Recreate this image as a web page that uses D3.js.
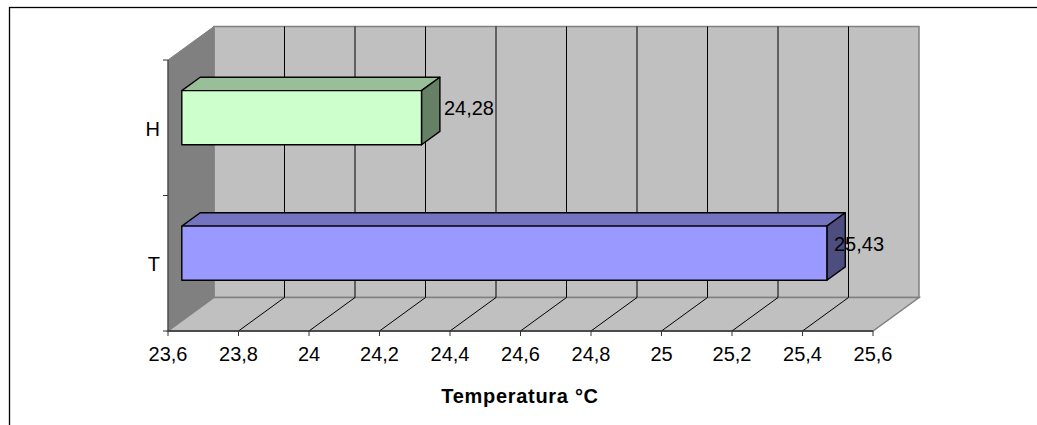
<!DOCTYPE html>
<html>
<head>
<meta charset="utf-8">
<script src="https://cdn.jsdelivr.net/npm/d3@7/dist/d3.min.js"></script>
<style>
  html, body { margin: 0; padding: 0; background: #fff; }
  svg { display: block; font-family: "Liberation Sans", Arial, sans-serif; }
</style>
</head>
<body>
<svg id="chart" width="1037" height="425"></svg>
<script>
// Chart data
const categories = ["H", "T"];
const values = [24.28, 25.43];
const valueLabels = ["24,28", "25,43"];
const xTicks = [23.6, 23.8, 24, 24.2, 24.4, 24.6, 24.8, 25, 25.2, 25.4, 25.6];
const xTickLabels = ["23,6", "23,8", "24", "24,2", "24,4", "24,6", "24,8", "25", "25,2", "25,4", "25,6"];
const axisTitle = "Temperatura °C";

// Bar colours: front, top, side
const barFront = ["#ccffcc", "#9999ff"];
const barTop   = ["#99bf99", "#7373bf"];
const barSide  = ["#668066", "#4d4d80"];

(function () {
  const svg = d3.select("#chart");

  // Outer chart frame
  svg.append("rect")
    .attr("x", 9.5).attr("y", 7.5)
    .attr("width", 1200).attr("height", 600)
    .attr("fill", "none").attr("stroke", "#000").attr("stroke-width", 1.3);

  // Front plane of the 3D box
  const pLeft = 168, pRight = 873, pTop = 60, pBottom = 331;
  const depthX = 46, depthY = -33.5;

  const x = d3.scaleLinear().domain([23.6, 25.6]).range([pLeft, pRight]);
  const y = d3.scaleBand().domain(categories).range([pTop, pBottom])
    .paddingInner(0.6).paddingOuter(0.3);

  // Point projected at depth d (0 = front, 1 = back)
  const P = (px, py, d) => [px + d * depthX, py + d * depthY];
  const poly = pts => pts.map(p => p.join(",")).join(" ");

  const g = svg.append("g");

  // Back wall
  g.append("polygon")
    .attr("points", poly([P(pLeft, pTop, 1), P(pRight, pTop, 1), P(pRight, pBottom, 1), P(pLeft, pBottom, 1)]))
    .attr("fill", "#c0c0c0").attr("stroke", "#808080").attr("stroke-width", 1.5);

  // Side wall
  g.append("polygon")
    .attr("points", poly([P(pLeft, pTop, 0), P(pLeft, pTop, 1), P(pLeft, pBottom, 1), P(pLeft, pBottom, 0)]))
    .attr("fill", "#808080").attr("stroke", "#808080").attr("stroke-width", 1);

  // Floor
  g.append("polygon")
    .attr("points", poly([P(pLeft, pBottom, 0), P(pLeft, pBottom, 1), P(pRight, pBottom, 1), P(pRight, pBottom, 0)]))
    .attr("fill", "#c0c0c0").attr("stroke", "#808080").attr("stroke-width", 1.5);

  // Gridlines on back wall and floor
  const inner = xTicks.slice(1, -1);
  g.selectAll(".gridWall").data(inner).join("line")
    .attr("x1", v => P(x(v), pTop, 1)[0]).attr("y1", v => P(x(v), pTop, 1)[1])
    .attr("x2", v => P(x(v), pBottom, 1)[0]).attr("y2", v => P(x(v), pBottom, 1)[1])
    .attr("stroke", "#000").attr("stroke-width", 1);
  g.selectAll(".gridFloor").data(inner).join("line")
    .attr("x1", v => P(x(v), pBottom, 0)[0]).attr("y1", v => P(x(v), pBottom, 0)[1])
    .attr("x2", v => P(x(v), pBottom, 1)[0]).attr("y2", v => P(x(v), pBottom, 1)[1])
    .attr("stroke", "#000").attr("stroke-width", 1);

  // Axes on the front edges
  g.append("line").attr("x1", pLeft).attr("y1", pTop).attr("x2", pLeft).attr("y2", pBottom)
    .attr("stroke", "#333").attr("stroke-width", 1);
  g.append("line").attr("x1", pLeft).attr("y1", pBottom).attr("x2", pRight).attr("y2", pBottom)
    .attr("stroke", "#333").attr("stroke-width", 1.3);

  // X ticks and labels
  g.selectAll(".xtick").data(xTicks).join("line")
    .attr("x1", v => x(v)).attr("x2", v => x(v))
    .attr("y1", pBottom).attr("y2", pBottom + 5)
    .attr("stroke", "#333").attr("stroke-width", 1);
  g.selectAll(".xlabel").data(xTicks).join("text")
    .attr("x", v => x(v)).attr("y", pBottom + 30)
    .attr("text-anchor", "middle").attr("font-size", 20).attr("fill", "#000")
    .text((v, i) => xTickLabels[i]);

  // Y ticks (band boundaries) and category labels
  const yBounds = [pTop, (pTop + pBottom) / 2, pBottom];
  g.selectAll(".ytick").data(yBounds).join("line")
    .attr("x1", pLeft - 5).attr("x2", pLeft)
    .attr("y1", v => v).attr("y2", v => v)
    .attr("stroke", "#333").attr("stroke-width", 1);
  g.selectAll(".ylabel").data(categories).join("text")
    .attr("x", 160).attr("y", c => y(c) + y.bandwidth() / 2 + 8)
    .attr("text-anchor", "end").attr("font-size", 20).attr("fill", "#000")
    .text(c => c);

  // 3D bars
  const d0 = 0.3, d1 = 0.7;
  categories.forEach((c, i) => {
    const x0 = x(23.6), x1 = x(values[i]);
    const y0 = y(c), y1 = y(c) + y.bandwidth();
    const bar = g.append("g");
    // top face
    bar.append("polygon")
      .attr("points", poly([P(x0, y0, d0), P(x0, y0, d1), P(x1, y0, d1), P(x1, y0, d0)]))
      .attr("fill", barTop[i]).attr("stroke", "#000").attr("stroke-width", 1.4).attr("stroke-linejoin", "round");
    // side face
    bar.append("polygon")
      .attr("points", poly([P(x1, y0, d0), P(x1, y0, d1), P(x1, y1, d1), P(x1, y1, d0)]))
      .attr("fill", barSide[i]).attr("stroke", "#000").attr("stroke-width", 1.4).attr("stroke-linejoin", "round");
    // front face
    bar.append("polygon")
      .attr("points", poly([P(x0, y0, d0), P(x1, y0, d0), P(x1, y1, d0), P(x0, y1, d0)]))
      .attr("fill", barFront[i]).attr("stroke", "#000").attr("stroke-width", 1.4).attr("stroke-linejoin", "round");

    // value label beside the bar, kept inside the plot box
    const endBack = P(x1, 0, d1)[0];
    const lx = Math.min(endBack + 4, P(pRight, 0, 1)[0] - 85);
    const ly = P(0, (y0 + y1) / 2, d1)[1] + 11;
    g.append("text")
      .attr("x", lx).attr("y", ly)
      .attr("font-size", 20).attr("fill", "#000")
      .text(valueLabels[i]);
  });

  // Axis title
  svg.append("text")
    .attr("x", 520).attr("y", 403)
    .attr("text-anchor", "middle").attr("font-size", 20).attr("font-weight", "bold")
    .attr("letter-spacing", 0.7).attr("fill", "#000")
    .text(axisTitle);
})();
</script>
</body>
</html>
